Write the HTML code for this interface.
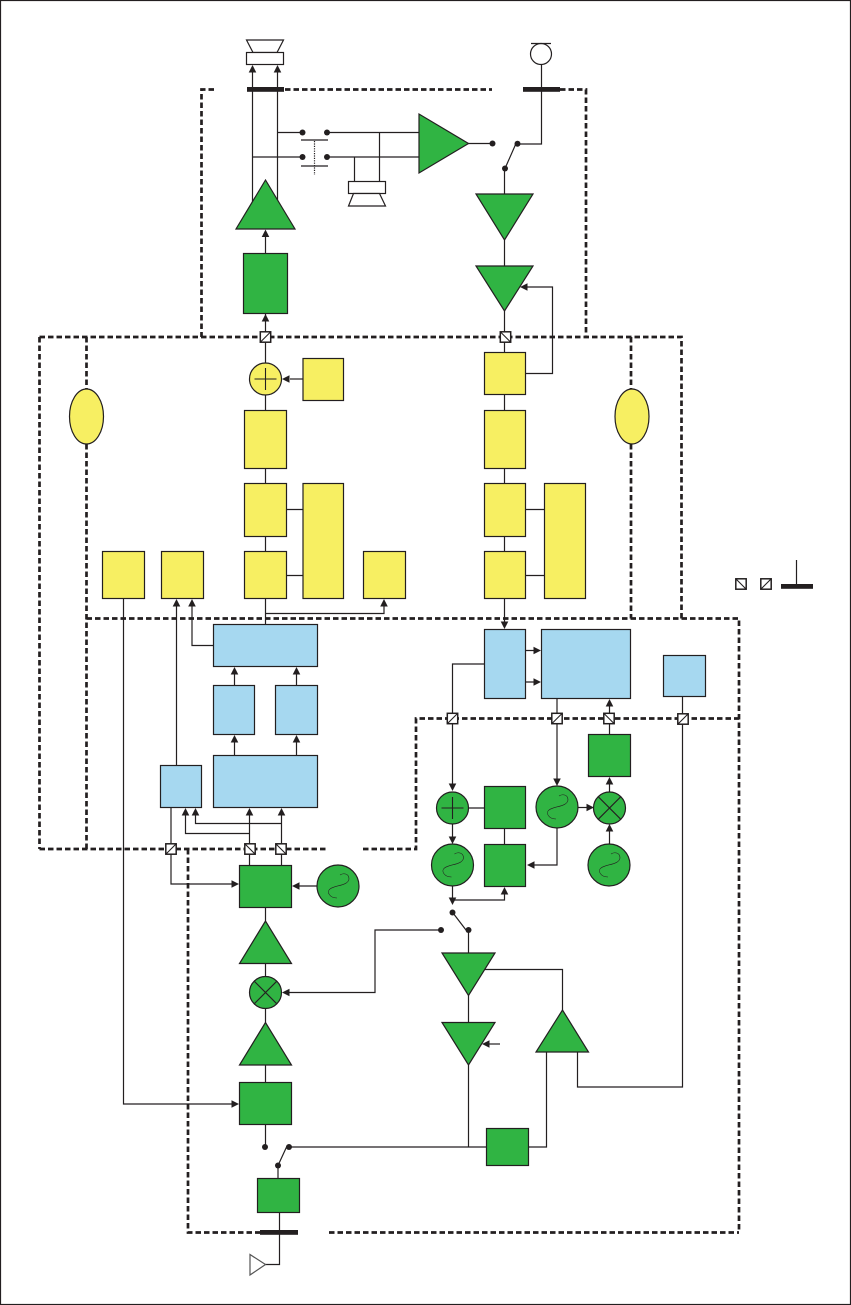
<!DOCTYPE html>
<html><head><meta charset="utf-8"><style>html,body{margin:0;padding:0;background:#fff}svg{display:block}</style></head><body>
<svg xmlns="http://www.w3.org/2000/svg" width="851" height="1305" viewBox="0 0 851 1305">
<defs>
<path id="ah" d="M0 0L-3.8 7.5L3.8 7.5Z" fill="#231f20" stroke="none"/>
<g id="osc"><circle r="21" fill="#30b443" stroke="#231f20" stroke-width="1.2"/><path d="M-1 12C-8 12-12 6-8 3C-3-1 10 0 11-7C11-13 5-13 2-11" fill="none" stroke="#231f20" stroke-width=".6"/></g>
<g id="mul"><circle r="16" fill="#30b443" stroke="#231f20" stroke-width="1.2"/><path d="M-11.3-11.3L11.3 11.3M-11.3 11.3L11.3-11.3" stroke="#231f20" stroke-width="1.1" fill="none"/></g>
<g id="cf"><rect x="-5.2" y="-5.2" width="10.4" height="10.4" fill="#fff" stroke="#231f20" stroke-width="1.5"/><path d="M-5 5L5-5" stroke="#231f20" stroke-width="1.1"/></g>
<g id="cb"><rect x="-5.2" y="-5.2" width="10.4" height="10.4" fill="#fff" stroke="#231f20" stroke-width="1.5"/><path d="M-5-5L5 5" stroke="#231f20" stroke-width="1.1"/></g>
</defs>
<rect x=".5" y=".5" width="850" height="1304" fill="#fff" stroke="#231f20" stroke-width="1.2"/>

<!-- dashed boundaries -->
<g fill="none" stroke="#231f20" stroke-width="2.7" stroke-dasharray="5.5 3">
<path d="M214 89.5H201.5V337"/>
<path d="M285 89.5H492"/>
<path d="M560 89.5H586V337"/>
<path d="M39.5 337H681.5V618.5"/>
<path d="M39.5 337V849"/>
<path d="M86.5 337V389M86.5 444V849"/>
<path d="M631 337V389M631 444V618.5"/>
<path d="M86.5 618.5H739V1232.5"/>
<path d="M39.5 849H326"/>
<path d="M363 849H416V718.5H739"/>
<path d="M188 849V1232.5H260"/>
<path d="M329 1232.5H739"/>
</g>

<!-- connectors -->
<g fill="none" stroke="#231f20" stroke-width="1.2">
<path d="M252.5 72V205M277.5 72V205M277.5 132.5H302M252.5 157H302M327 132.5H419M327 157H419M354.5 157V181M379.5 132.5V181"/>
<path d="M301 140H328M301 166H328"/>
<path d="M314.5 141V175" stroke-dasharray="1.2 1.2"/>
<path d="M541.5 65V144H518M468 143.5H492M505 168.5L516 143.5M504.5 168V194M504.5 240V266"/>
<path d="M265.5 236V253M265.5 313V320M265.5 313V395M265.5 395V410M265.5 468V483M265.5 536V551M265.5 598V624M265.5 613.5H384V606"/>
<path d="M504.5 311V352M504.5 394V410M504.5 468V483M504.5 536V551M504.5 598V622"/>
<path d="M527 287H552.5V373.5H526"/>
<path d="M303 379H290"/>
<path d="M286 509.5H303M286 575.5H303M526 509.5H545M526 575.5H545"/>
<path d="M123.5 598V1104H232"/>
<path d="M176.5 606V765M192 606V645.5H213"/>
<path d="M234.5 685V674M296.5 685V674M234.5 755V742M296.5 755V742"/>
<path d="M171 807V884H232"/>
<path d="M249.5 866V815M281.5 866V815M281.5 823.5H195.5V815M249.5 833.5H185.5V815"/>
<path d="M317 886H299"/>
<path d="M265.5 907V921M265.5 963V977M265.5 1008V1023M265.5 1065V1082M265.5 1124V1147"/>
<path d="M278 1165.5L287 1146M278 1165V1178M289 1147H486M528 1147H546.5V1052M468.5 1065V1147"/>
<path d="M279.5 1212V1264.5H265"/>
<path d="M526 650.5H534M526 682H534"/>
<path d="M484 664H452.5V784M452.5 824V837"/>
<path d="M484 808H468M504.5 828V844"/>
<path d="M557 698V779M557 828V865H534"/>
<path d="M578 807.5H587"/>
<path d="M609.5 792V784M609.5 844V831M609.5 734V706"/>
<path d="M682.5 696V1087H577.5V1052"/>
<path d="M452.5 886V898M452.5 900H504.5V894"/>
<path d="M453 913L466 930M468.5 930V953M468.5 995V1023"/>
<path d="M441 930H375V992.5H289"/>
<path d="M500 1044H489"/>
<path d="M483 969.5H562.5V1010"/>
</g>

<!-- arrowheads -->
<g>
<use href="#ah" x="252.5" y="65"/><use href="#ah" x="277.5" y="65"/>
<use href="#ah" x="265.5" y="229.5"/><use href="#ah" x="265.5" y="314"/>
<use href="#ah" x="384" y="599"/><use href="#ah" x="176.5" y="599"/><use href="#ah" x="192" y="599"/>
<use href="#ah" x="234.5" y="667"/><use href="#ah" x="296.5" y="667"/><use href="#ah" x="234.5" y="735"/><use href="#ah" x="296.5" y="735"/>
<use href="#ah" x="249.5" y="808"/><use href="#ah" x="281.5" y="808"/><use href="#ah" x="185.5" y="808"/><use href="#ah" x="195.5" y="808"/>
<use href="#ah" x="504.5" y="887"/>
<use href="#ah" x="609.5" y="777"/><use href="#ah" x="609.5" y="824"/><use href="#ah" x="609.5" y="699"/>
<use href="#ah" transform="translate(504.5 629)rotate(180)"/>
<use href="#ah" transform="translate(452.5 791)rotate(180)"/>
<use href="#ah" transform="translate(452.5 844)rotate(180)"/>
<use href="#ah" transform="translate(557 786)rotate(180)"/>
<use href="#ah" transform="translate(452.5 905)rotate(180)"/>
<use href="#ah" transform="translate(239 884)rotate(90)"/>
<use href="#ah" transform="translate(239 1104)rotate(90)"/>
<use href="#ah" transform="translate(541 650.5)rotate(90)"/>
<use href="#ah" transform="translate(541 682)rotate(90)"/>
<use href="#ah" transform="translate(594 807.5)rotate(90)"/>
<use href="#ah" transform="translate(520 287)rotate(-90)"/>
<use href="#ah" transform="translate(282 379)rotate(-90)"/>
<use href="#ah" transform="translate(292 886)rotate(-90)"/>
<use href="#ah" transform="translate(527 865)rotate(-90)"/>
<use href="#ah" transform="translate(282 992.5)rotate(-90)"/>
<use href="#ah" transform="translate(482 1044)rotate(-90)"/>
</g>

<!-- white shapes -->
<g fill="#fff" stroke="#231f20" stroke-width="1.2">
<path d="M246.5 40H283.5L277 52.5H253Z"/>
<rect x="246.5" y="52.5" width="37" height="12"/>
<rect x="348.5" y="181.5" width="37" height="12"/>
<path d="M353.5 193.5H379.5L385.5 206H348.5Z"/>
<circle cx="541" cy="54" r="10.5"/>
<path d="M250 1254.5V1275L265.5 1264.5Z" stroke="#555"/>
</g>
<path d="M531 43.5H551" stroke="#231f20" stroke-width="1.2" fill="none"/>

<!-- bars -->
<g fill="#231f20">
<rect x="247" y="87" width="37" height="4.8"/>
<rect x="523" y="87" width="37" height="4.8"/>
<rect x="260" y="1230" width="38" height="4.8"/>
<rect x="781" y="584" width="32" height="4.8"/>
</g>
<path d="M796.5 560V585" stroke="#231f20" stroke-width="1.2" fill="none"/>

<!-- green -->
<g fill="#30b443" stroke="#231f20" stroke-width="1.2">
<path d="M419 114V173L468.5 143.5Z"/>
<path d="M265.5 180L236 229H295Z"/>
<rect x="243.5" y="253.5" width="44" height="60"/>
<path d="M476 194H533L504.5 240Z"/>
<path d="M476 266H533L504.5 311Z"/>
<rect x="239.5" y="865.5" width="52" height="42"/>
<path d="M265.5 921L239.5 963.5H291.5Z"/>
<path d="M265.5 1022.5L239.5 1065H291.5Z"/>
<rect x="239.5" y="1082.5" width="52" height="42"/>
<rect x="257.5" y="1178.5" width="42" height="34"/>
<rect x="484.5" y="786.5" width="41" height="42"/>
<rect x="484.5" y="844.5" width="41" height="42"/>
<rect x="588.5" y="734.5" width="42" height="42"/>
<path d="M442 953H495L468.5 995.5Z"/>
<path d="M442 1022.5H495L468.5 1065Z"/>
<path d="M562.5 1010L536 1052H588.5Z"/>
<rect x="486.5" y="1128.5" width="42" height="37"/>
<circle cx="452.5" cy="808" r="16"/>
</g>
<path d="M441.5 808H463.5M452.5 797V819" stroke="#231f20" stroke-width="1.1" fill="none"/>
<use href="#osc" x="338" y="886"/>
<use href="#osc" x="452.5" y="865"/>
<use href="#osc" x="557" y="807"/>
<use href="#osc" x="609" y="865"/>
<use href="#mul" x="609.5" y="808"/>
<use href="#mul" x="265.5" y="992.5"/>

<!-- yellow -->
<g fill="#f7ef62" stroke="#231f20" stroke-width="1.2">
<ellipse cx="86.5" cy="416.5" rx="17" ry="27.5"/>
<ellipse cx="632" cy="416.5" rx="17" ry="27.5"/>
<circle cx="265.5" cy="379" r="16"/>
<rect x="303" y="358.5" width="40.5" height="42"/>
<rect x="244.5" y="410.5" width="42" height="58"/>
<rect x="244.5" y="483.5" width="42" height="53"/>
<rect x="244.5" y="551.5" width="42" height="47"/>
<rect x="303" y="483.5" width="40.5" height="115"/>
<rect x="102.5" y="551.5" width="42" height="47"/>
<rect x="161.5" y="551.5" width="42" height="47"/>
<rect x="363.5" y="551.5" width="42" height="47"/>
<rect x="484.5" y="352.5" width="41" height="42"/>
<rect x="484.5" y="410.5" width="41" height="58"/>
<rect x="484.5" y="483.5" width="41" height="53"/>
<rect x="484.5" y="551.5" width="41" height="47"/>
<rect x="544.5" y="483.5" width="41" height="115"/>
</g>
<path d="M254.5 379H276.5M265.5 368V390" stroke="#231f20" stroke-width="1.1" fill="none"/>

<!-- blue -->
<g fill="#a6d8f0" stroke="#231f20" stroke-width="1.2">
<rect x="213.5" y="624.5" width="104" height="42"/>
<rect x="213.5" y="685.5" width="41" height="49"/>
<rect x="275.5" y="685.5" width="42" height="49"/>
<rect x="213.5" y="755.5" width="104" height="52"/>
<rect x="160.5" y="765.5" width="41" height="42"/>
<rect x="484.5" y="629.5" width="41" height="69"/>
<rect x="541.5" y="629.5" width="89" height="69"/>
<rect x="663.5" y="655.5" width="42" height="41"/>
</g>

<!-- converters -->
<use href="#cf" x="265.5" y="337"/>
<use href="#cb" x="505.5" y="337"/>
<use href="#cf" x="171" y="849"/>
<use href="#cb" x="250" y="849"/>
<use href="#cb" x="281" y="849"/>
<use href="#cf" x="452.5" y="718.5"/>
<use href="#cf" x="557" y="718.5"/>
<use href="#cb" x="609" y="718.5"/>
<use href="#cf" x="683" y="719"/>
<use href="#cb" transform="translate(741 584)"/>
<use href="#cf" transform="translate(766 584)"/>

<!-- dots -->
<g fill="#231f20">
<circle cx="302.5" cy="132.5" r="3"/><circle cx="327" cy="132.5" r="3"/>
<circle cx="302.5" cy="157" r="3"/><circle cx="327" cy="157" r="3"/>
<circle cx="492.5" cy="143.5" r="3"/><circle cx="517.5" cy="143.7" r="3"/><circle cx="505" cy="168.5" r="3"/>
<circle cx="452.5" cy="912.5" r="3"/><circle cx="468.5" cy="930" r="3"/><circle cx="441" cy="930" r="3"/>
<circle cx="265" cy="1147" r="3"/><circle cx="289" cy="1147" r="3"/><circle cx="278" cy="1165.5" r="3"/>
</g>
</svg>
</body></html>
